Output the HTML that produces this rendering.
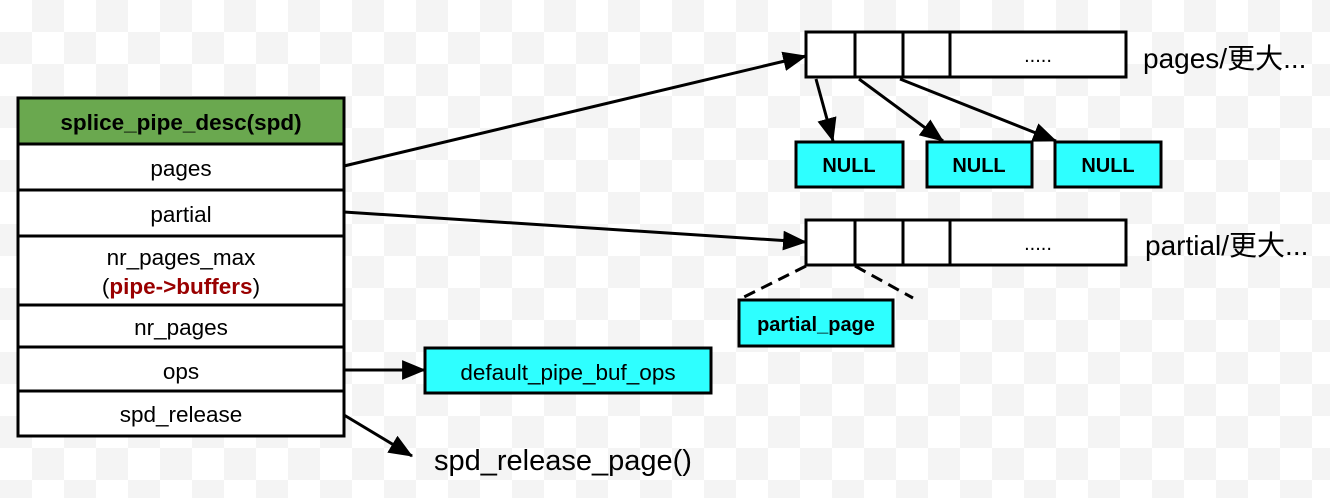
<!DOCTYPE html>
<html><head><meta charset="utf-8"><style>
html,body{margin:0;padding:0;}
body{width:1330px;height:498px;overflow:hidden;background-color:#fff;
background-image:conic-gradient(#f4f4f4 25%,#fff 25% 50%,#f4f4f4 50% 75%,#fff 75%);background-size:64px 64px;}
svg{position:absolute;left:0;top:0;font-family:"Liberation Sans","Noto Sans CJK SC",sans-serif;}
</style></head><body>
<svg width="1330" height="498" viewBox="0 0 1330 498">
<defs>
<marker id="b" viewBox="0 0 22 18" refX="21" refY="9" markerWidth="24" markerHeight="20" orient="auto" markerUnits="userSpaceOnUse"><path d="M0,0 L22,9 L0,18z" fill="#000"/></marker></defs>
<g stroke="#000" stroke-width="3">
<rect x="18" y="98" width="326" height="46" fill="#6aa84f"/>
<rect x="18" y="144" width="326" height="46" fill="#fff"/>
<rect x="18" y="190" width="326" height="46" fill="#fff"/>
<rect x="18" y="236" width="326" height="69" fill="#fff"/>
<rect x="18" y="305" width="326" height="42" fill="#fff"/>
<rect x="18" y="347" width="326" height="44" fill="#fff"/>
<rect x="18" y="391" width="326" height="45" fill="#fff"/>
<rect x="806" y="32" width="320" height="45" fill="#fff"/>
<line x1="855" y1="32" x2="855" y2="77"/><line x1="903" y1="32" x2="903" y2="77"/><line x1="950" y1="32" x2="950" y2="77"/>
<rect x="806" y="220" width="320" height="45" fill="#fff"/>
<line x1="855" y1="220" x2="855" y2="265"/><line x1="903" y1="220" x2="903" y2="265"/><line x1="950" y1="220" x2="950" y2="265"/>
<rect x="796" y="142" width="107" height="45" fill="#2effff"/>
<rect x="927" y="142" width="105" height="45" fill="#2effff"/>
<rect x="1055" y="142" width="106" height="45" fill="#2effff"/>
<rect x="739" y="300" width="154" height="46" fill="#2effff"/>
<rect x="425" y="348" width="286" height="45" fill="#2effff"/>
<line x1="344" y1="166" x2="806" y2="56" marker-end="url(#b)"/>
<line x1="344" y1="212" x2="806" y2="242" marker-end="url(#b)"/>
<line x1="344" y1="370" x2="425" y2="370" marker-end="url(#b)"/>
<line x1="344" y1="415" x2="412" y2="456" marker-end="url(#b)"/>
<line x1="816" y1="79" x2="833" y2="141" marker-end="url(#b)"/>
<line x1="859" y1="79" x2="943" y2="141" marker-end="url(#b)"/>
<line x1="900" y1="79" x2="1056" y2="141" marker-end="url(#b)"/>
<line x1="806" y1="266" x2="742" y2="298" stroke-dasharray="12,7"/>
<line x1="855" y1="266" x2="913" y2="298" stroke-dasharray="12,7"/>
</g>
<g font-size="22.5" text-anchor="middle" fill="#000">
<text x="181" y="130" font-weight="bold">splice_pipe_desc(spd)</text>
<text x="181" y="176">pages</text>
<text x="181" y="222">partial</text>
<text x="181" y="265">nr_pages_max</text>
<text x="181" y="294">(<tspan fill="#990000" font-weight="bold">pipe-&gt;buffers</tspan>)</text>
<text x="181" y="335">nr_pages</text>
<text x="181" y="379">ops</text>
<text x="181" y="422">spd_release</text>
<text x="568" y="380">default_pipe_buf_ops</text>
</g>
<g font-size="20" text-anchor="middle" fill="#000">
<text x="849" y="172" font-weight="bold">NULL</text>
<text x="979" y="172" font-weight="bold">NULL</text>
<text x="1108" y="172" font-weight="bold">NULL</text>
<text x="816" y="331" font-weight="bold">partial_page</text>
<text x="1038" y="62">.....</text>
<text x="1038" y="250">.....</text>
</g>
<g font-size="28" fill="#000">
<text x="1143" y="68">pages/更大...</text>
<text x="1145" y="255">partial/更大...</text>
<text x="434" y="470" font-size="29">spd_release_page()</text>
</g>
</svg>
</body></html>
